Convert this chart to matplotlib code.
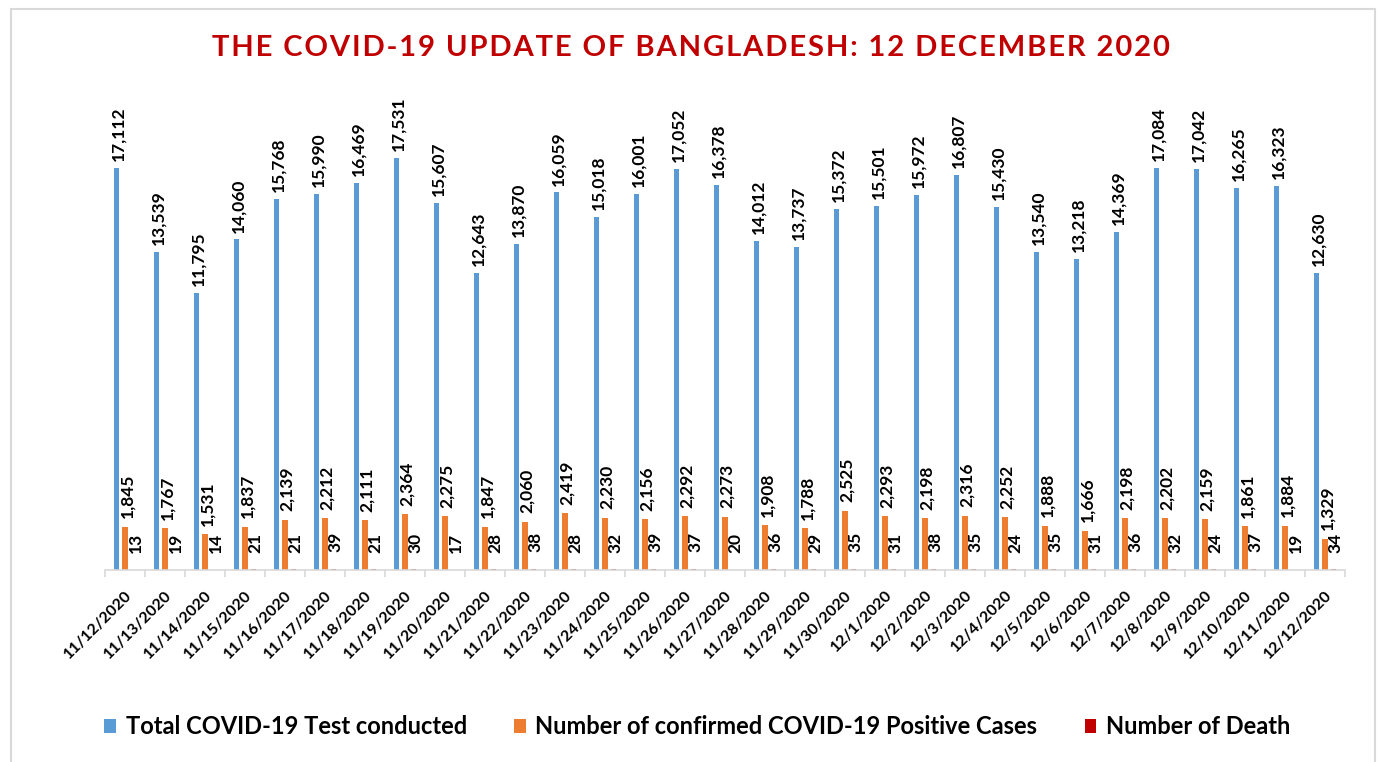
import numpy as np
import matplotlib.pyplot as plt
from matplotlib.patches import Rectangle

plt.rcParams['font.family'] = ['Lato', 'DejaVu Sans']

dates = ['11/12/2020', '11/13/2020', '11/14/2020', '11/15/2020', '11/16/2020',
         '11/17/2020', '11/18/2020', '11/19/2020', '11/20/2020', '11/21/2020',
         '11/22/2020', '11/23/2020', '11/24/2020', '11/25/2020', '11/26/2020',
         '11/27/2020', '11/28/2020', '11/29/2020', '11/30/2020', '12/1/2020',
         '12/2/2020', '12/3/2020', '12/4/2020', '12/5/2020', '12/6/2020',
         '12/7/2020', '12/8/2020', '12/9/2020', '12/10/2020', '12/11/2020',
         '12/12/2020']
tests = [17112, 13539, 11795, 14060, 15768, 15990, 16469, 17531, 15607, 12643,
         13870, 16059, 15018, 16001, 17052, 16378, 14012, 13737, 15372, 15501,
         15972, 16807, 15430, 13540, 13218, 14369, 17084, 17042, 16265, 16323,
         12630]
positives = [1845, 1767, 1531, 1837, 2139, 2212, 2111, 2364, 2275, 1847,
             2060, 2419, 2230, 2156, 2292, 2273, 1908, 1788, 2525, 2293,
             2198, 2316, 2252, 1888, 1666, 2198, 2202, 2159, 1861, 1884,
             1329]
deaths = [13, 19, 14, 21, 21, 39, 21, 30, 17, 28,
          38, 28, 32, 39, 37, 20, 36, 29, 35, 31,
          38, 35, 24, 35, 31, 36, 32, 24, 37, 19,
          34]

title = 'THE COVID-19 UPDATE OF BANGLADESH: 12 DECEMBER 2020'

# name, values, colour, offset in the group, label gap (points)
series = [
    ('Total COVID-19 Test conducted', tests, '#5B9BD5', -0.21, 5),
    ('Number of confirmed COVID-19 Positive Cases', positives, '#ED7D31', 0.0, 6),
    ('Number of Death', deaths, '#C00000', 0.21, 12),
]

fig = plt.figure(figsize=(13.81, 7.62), dpi=100)
ax = fig.add_axes([0.076, 0.252, 0.898, 0.617])

x = np.arange(len(dates))
width = 0.13
for name, vals, color, off, gap in series:
    bars = ax.bar(x + off, vals, width, color=color, label=name)
    for b, v in zip(bars, vals):
        ax.annotate(f'{v:,}', (b.get_x() + b.get_width() / 2, b.get_height()),
                    xytext=(1.5, gap), textcoords='offset points',
                    rotation=90, ha='center', va='bottom',
                    fontsize=12.5, fontweight='bold', color='black')

ax.set_xlim(-0.5, len(dates) - 0.5)
ax.set_ylim(0, 20000)
ax.set_yticks([])
for s in ['left', 'right', 'top']:
    ax.spines[s].set_visible(False)
ax.spines['bottom'].set_color('#D9D9D9')
ax.spines['bottom'].set_linewidth(1.2)

ax.set_xticks(x)
ax.set_xticklabels(dates, rotation=45, ha='right', rotation_mode='anchor',
                   fontsize=11.5, fontweight='bold')
ax.tick_params(axis='x', which='major', length=0, pad=13)
ax.set_xticks(np.arange(-0.5, len(dates)), minor=True)
ax.tick_params(axis='x', which='minor', length=5, color='#D9D9D9', width=1.2)

# hair spaces between letters give the wide tracking of the original title
fig.text(0.5, 0.937, '\u200a'.join(title),
         ha='center', va='center', fontsize=21, fontweight='bold',
         color='#C00000')

fig.legend(loc='center', bbox_to_anchor=(0.505, 0.046), ncol=3, frameon=False,
           prop={'weight': 'bold', 'size': 17}, handlelength=0.5,
           handleheight=0.5, columnspacing=2.0, handletextpad=0.4)

fig.patches.append(Rectangle((11 / 1381, -0.05), (1375 - 11) / 1381,
                             1.05 - 9 / 762, transform=fig.transFigure,
                             fill=False, edgecolor='#D9D9D9', linewidth=1.5))

fig.savefig('out.png', dpi=100)
